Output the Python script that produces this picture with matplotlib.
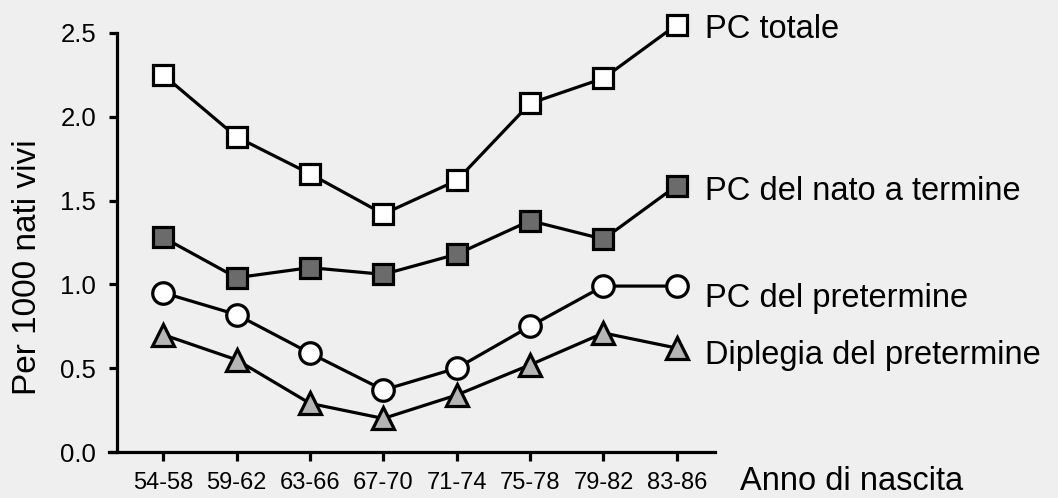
import matplotlib
matplotlib.use("Agg")
import matplotlib.pyplot as plt

plt.rcParams['font.family'] = ['Liberation Sans', 'DejaVu Sans']

categories = ["54-58", "59-62", "63-66", "67-70", "71-74", "75-78", "79-82", "83-86"]
pc_totale = [2.25, 1.88, 1.66, 1.42, 1.62, 2.08, 2.23, 2.55]
pc_termine = [1.28, 1.04, 1.10, 1.06, 1.18, 1.38, 1.27, 1.59]
pc_pretermine = [0.95, 0.82, 0.59, 0.37, 0.50, 0.75, 0.99, 0.99]
diplegia = [0.70, 0.55, 0.29, 0.20, 0.34, 0.52, 0.71, 0.62]
yticks = [0.0, 0.5, 1.0, 1.5, 2.0, 2.5]
ytick_labels = ["0.0", "0.5", "1.0", "1.5", "2.0", "2.5"]

W, H = 1058, 498
bg = "#efefef"
fig = plt.figure(figsize=(W / 100, H / 100), dpi=100, facecolor=bg)
ax = fig.add_axes([117 / W, 1 - 452 / H, (715 - 117) / W, (452 - 33) / H])
ax.set_facecolor(bg)

x = list(range(len(categories)))
lw = 2.3
common = dict(color="black", lw=lw, mew=2.3, mec="black", clip_on=False, zorder=3)
ax.plot(x, pc_totale, marker="s", ms=15, mfc="white", **common)
ax.plot(x, pc_termine, marker="s", ms=15, mfc="#6b6b6b", **common)
ax.plot(x, pc_pretermine, marker="o", ms=15.5, mfc="white", **common)
ax.plot(x, diplegia, marker="^", ms=16, mfc="#b5b5b5", **common)

ax.set_xlim(-0.63, 7.52)
ax.set_ylim(0, 2.5)
ax.set_xticks(x)
ax.set_xticklabels(categories)
ax.set_yticks(yticks)
ax.set_yticklabels(ytick_labels)

for s in ["top", "right"]:
    ax.spines[s].set_visible(False)
for s in ["left", "bottom"]:
    ax.spines[s].set_linewidth(2.3)
ax.spines["bottom"].set_bounds(-0.63 - 8 / 73.5, 7.52)
ax.tick_params(axis="x", length=6.5, width=2.3, pad=8, labelsize=17)
ax.tick_params(axis="y", length=6, width=2.3, pad=9, labelsize=18.5)

fig.text(28 / W, 1 - 267 / H, "Per 1000 nati vivi", rotation=90,
         ha="center", va="center", fontsize=24)

labels = [("PC totale", 38), ("PC del nato a termine", 200),
          ("PC del pretermine", 307), ("Diplegia del pretermine", 364),
          ("Anno di nascita", 490)]
for txt, yb in labels[:4]:
    fig.text(705 / W, 1 - yb / H, txt, ha="left", va="baseline", fontsize=23.5)
fig.text(740 / W, 1 - labels[4][1] / H, labels[4][0], ha="left", va="baseline", fontsize=23.5)

fig.savefig("out.png", dpi=100, facecolor=bg)
